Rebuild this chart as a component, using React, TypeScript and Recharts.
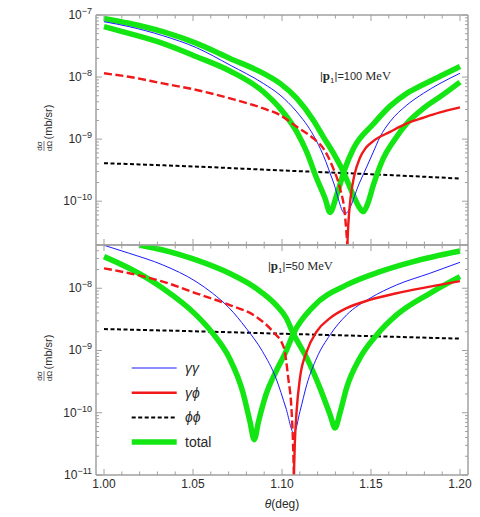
import { LineChart, Line, XAxis, YAxis, Legend } from "recharts";

type Pt = [number, number];

// theta (deg) vs d(sigma)/d(Omega) (mb/sr)
const TOP_BLUE: Pt[] = [
  [1.0, 7.8e-8], [1.014, 6.5e-8], [1.033, 4.65e-8], [1.052, 2.97e-8], [1.0708, 1.56e-8],
  [1.0895, 7.9e-9], [1.0989, 5.13e-9], [1.1083, 2.75e-9], [1.1176, 1.16e-9], [1.1232, 5.5e-10],
  [1.1288, 2.05e-10], [1.1354, 6.3e-11], [1.1438, 2.05e-10], [1.1513, 6.2e-10], [1.1551, 1.09e-9],
  [1.1607, 1.91e-9], [1.1701, 3.53e-9], [1.1794, 5.46e-9], [1.1888, 7.9e-9], [1.2, 1.15e-8],
];
const TOP_RED_NEG: Pt[] = [
  [1.0, 1.15e-8], [1.014, 1.01e-8], [1.033, 7.9e-9], [1.052, 6.2e-9], [1.0708, 4.53e-9],
  [1.0895, 3.13e-9], [1.0989, 2.44e-9], [1.1083, 1.58e-9], [1.1176, 1.03e-9], [1.1232, 7.1e-10],
  [1.1288, 3.37e-10], [1.1326, 1.6e-10], [1.1354, 5.9e-11], [1.1367, 1.97e-11],
];
const TOP_RED_POS: Pt[] = [
  [1.1367, 1.97e-11], [1.1372, 4e-11], [1.1385, 1.12e-10], [1.1405, 2.5e-10], [1.1438, 5.0e-10],
  [1.147, 7.2e-10], [1.1513, 9.3e-10], [1.1607, 1.31e-9], [1.1701, 1.79e-9], [1.1794, 2.21e-9],
  [1.1888, 2.69e-9], [1.2, 3.24e-9],
];
const TOP_BLACK: Pt[] = [
  [1.0, 4.1e-10], [1.05, 3.63e-10], [1.1, 3.13e-10], [1.15, 2.72e-10], [1.2, 2.32e-10],
];
const TOP_GREEN_A: Pt[] = [
  [1.0, 6.5e-8], [1.014, 5.06e-8], [1.033, 3.49e-8], [1.052, 2.13e-8], [1.0708, 1.25e-8],
  [1.0895, 5.8e-9], [1.0989, 3.13e-9], [1.1083, 1.31e-9], [1.1139, 6.2e-10], [1.1195, 2.32e-10],
  [1.1242, 1.11e-10], [1.127, 6.6e-11], [1.1307, 1.25e-10], [1.1354, 3.37e-10], [1.1403, 7.2e-10],
  [1.1513, 1.75e-9], [1.1607, 3.4e-9], [1.1701, 5.46e-9], [1.1794, 7.6e-9], [1.1888, 1.03e-8],
  [1.2, 1.48e-8],
];
const TOP_GREEN_B: Pt[] = [
  [1.0, 8.8e-8], [1.014, 7.35e-8], [1.033, 5.38e-8], [1.052, 3.49e-8], [1.0708, 2.0e-8],
  [1.0895, 1.15e-8], [1.0989, 7.9e-9], [1.1083, 4.53e-9], [1.1176, 2.02e-9], [1.1232, 1.09e-9],
  [1.1288, 6.0e-10], [1.1344, 3.0e-10], [1.14, 1.26e-10], [1.1435, 7.9e-11], [1.1457, 6.8e-11],
  [1.148, 8.9e-11], [1.1513, 1.81e-10], [1.1569, 4.9e-10], [1.1625, 9.1e-10], [1.1701, 1.79e-9],
  [1.1794, 3.13e-9], [1.1888, 4.82e-9], [1.2, 8.3e-9],
];

const BOT_BLUE: Pt[] = [
  [1.0, 4.9e-8], [1.0142, 3.64e-8], [1.033, 2.37e-8], [1.0517, 1.28e-8], [1.061, 8.3e-9],
  [1.0704, 4.8e-9], [1.0798, 2.29e-9], [1.0891, 9.6e-10], [1.0966, 3.6e-10], [1.1022, 1.19e-10],
  [1.1067, 4.7e-11], [1.1101, 1.05e-10], [1.1139, 2.82e-10], [1.1195, 7.6e-10], [1.127, 1.78e-9],
  [1.1363, 3.73e-9], [1.1494, 6.9e-9], [1.1644, 1.13e-8], [1.1831, 1.74e-8], [1.2, 2.61e-8],
];
const BOT_RED_NEG: Pt[] = [
  [1.0, 2.09e-8], [1.0142, 1.74e-8], [1.033, 1.28e-8], [1.0517, 8.3e-9], [1.0704, 5.4e-9],
  [1.0854, 3.5e-9], [1.0948, 2.02e-9], [1.101, 1.12e-9], [1.1035, 3.63e-10], [1.1054, 1.05e-10],
  [1.1062, 3.2e-11], [1.1067, 1e-11],
];
const BOT_RED_POS: Pt[] = [
  [1.1067, 1e-11], [1.1072, 3.2e-11], [1.1082, 1.05e-10], [1.1101, 3.63e-10], [1.1139, 9.6e-10],
  [1.1195, 2.02e-9], [1.127, 3.31e-9], [1.1363, 4.79e-9], [1.1494, 6.5e-9], [1.1644, 8.3e-9],
  [1.1831, 1.06e-8], [1.2, 1.3e-8],
];
const BOT_BLACK: Pt[] = [
  [1.0, 2.21e-9], [1.05, 2.04e-9], [1.1, 1.86e-9], [1.15, 1.7e-9], [1.2, 1.55e-9],
];
const BOT_GREEN_A: Pt[] = [
  [1.0, 3.22e-8], [1.0142, 2.09e-8], [1.033, 1.0e-8], [1.0517, 3.73e-9], [1.061, 1.9e-9],
  [1.0704, 7.6e-10], [1.0779, 2.19e-10], [1.082, 7.2e-11], [1.0844, 3.7e-11], [1.0868, 7.2e-11],
  [1.091, 1.95e-10], [1.0966, 4.6e-10], [1.1022, 9.6e-10], [1.1064, 1.86e-9], [1.1176, 5.08e-9],
  [1.1363, 1.13e-8], [1.1551, 1.85e-8], [1.1738, 2.68e-8], [1.2, 3.97e-8],
];
const BOT_GREEN_B: Pt[] = [
  [1.0197, 4.95e-8], [1.033, 4.12e-8], [1.0517, 2.85e-8], [1.0704, 1.74e-8],
  [1.0854, 1.0e-8], [1.0966, 5.4e-9], [1.1022, 3.39e-9], [1.1064, 1.86e-9], [1.1139, 7.6e-10],
  [1.1213, 2.51e-10], [1.127, 9.3e-11], [1.1298, 5.7e-11], [1.1326, 1.0e-10], [1.1363, 2.51e-10],
  [1.1438, 7.6e-10], [1.1532, 1.78e-9], [1.1644, 3.73e-9], [1.1831, 8.3e-9], [1.2, 1.54e-8],
];

const X_TICKS = [
  1.0, 1.01, 1.02, 1.03, 1.04, 1.05, 1.06, 1.07, 1.08, 1.09, 1.1,
  1.11, 1.12, 1.13, 1.14, 1.15, 1.16, 1.17, 1.18, 1.19, 1.2,
];
const X_MAJOR = [1.0, 1.05, 1.1, 1.15, 1.2];
const DECADES = [-11, -10, -9, -8, -7];
const MANTISSAS = [1, 2, 3, 4, 5, 6, 7, 8, 9];

const LEGEND_ITEMS = [
  { label: "γγ", italic: true, color: "#1a1aff", width: 1, dash: undefined },
  { label: "γϕ", italic: true, color: "#f01818", width: 2.4, dash: undefined },
  { label: "ϕϕ", italic: true, color: "#000000", width: 2, dash: "4 2.5" },
  { label: "total", italic: false, color: "#14e614", width: 5.5, dash: undefined },
];

const X_DOMAIN: [number, number] = [0.9955, 1.2045];
const TOP_Y_DOMAIN: [number, number] = [1.97e-11, 1e-7];
const BOT_Y_DOMAIN: [number, number] = [1e-11, 4.95e-8];

const BLUE = "#1a1aff";
const RED = "#f01818";
const GREEN = "#14e614";
const FRAME = "#a0a0a0";
const INK = "#2a2a2a";
const SANS = "'Liberation Sans', Arial, sans-serif";
const SERIF = "'Liberation Serif', 'Times New Roman', serif";

const rows = (pts: Pt[]) => pts.map(([t, v]) => ({ t, v }));

const logTicks = (domain: [number, number]) =>
  DECADES.flatMap((d) => MANTISSAS.map((m) => m * Math.pow(10, d))).filter(
    (v) => v >= domain[0] * 0.999 && v <= domain[1] * 1.001
  );

function XTick(props: any) {
  const { x, y, payload, side, labels } = props;
  const v: number = payload.value;
  const major = X_MAJOR.some((m) => Math.abs(m - v) < 1e-6);
  const len = major ? 6 : 3.5;
  const dir = side === "bottom" ? -1 : 1;
  const px = Number(x);
  const py = Number(y);
  return (
    <g>
      <line x1={px} x2={px} y1={py} y2={py + dir * len} stroke={FRAME} strokeWidth={1} />
      {labels && major && (
        <text x={px} y={py + 13} textAnchor="middle" fontSize={12} fill={INK} fontFamily={SANS}>
          {v.toFixed(2)}
        </text>
      )}
    </g>
  );
}

function YTick(props: any) {
  const { x, y, payload, side } = props;
  const v: number = payload.value;
  const exp = Math.floor(Math.log10(v) + 1e-9);
  const major = Math.abs(v / Math.pow(10, exp) - 1) < 1e-6;
  const len = major ? 6 : 3;
  const dir = side === "left" ? 1 : -1;
  const px = Number(x);
  const py = Number(y);
  return (
    <g>
      <line x1={px} x2={px + dir * len} y1={py} y2={py} stroke={FRAME} strokeWidth={1} />
      {side === "left" && major && (
        <text x={px - 4} y={py + 4} textAnchor="end" fontSize={12} fill={INK} fontFamily={SANS}>
          10
          <tspan dy={-5} fontSize={9}>
            {"\u2212" + Math.abs(exp)}
          </tspan>
        </text>
      )}
    </g>
  );
}

function LegendBox() {
  return (
    <svg width={130} height={100} style={{ display: "block" }}>
      {LEGEND_ITEMS.map((it, i) => {
        const cy = 12 + i * 24.7;
        return (
          <g key={it.label}>
            <line x1={11.7} x2={56.7} y1={cy} y2={cy} stroke={it.color} strokeWidth={it.width} strokeDasharray={it.dash} />
            <text x={65} y={cy + 5} fontSize={14} fill={INK} fontFamily={SANS} fontStyle={it.italic ? "italic" : "normal"}>
              {it.label}
            </text>
          </g>
        );
      })}
    </svg>
  );
}

function Panel({
  width,
  height,
  margin,
  yDomain,
  bottomHeight,
  bottomLabels,
  series,
  legend,
}: {
  width: number;
  height: number;
  margin: { top: number; right: number; bottom: number; left: number };
  yDomain: [number, number];
  bottomHeight: number;
  bottomLabels: boolean;
  series: { blue: Pt[]; redNeg: Pt[]; redPos: Pt[]; black: Pt[]; greenA: Pt[]; greenB: Pt[] };
  legend?: boolean;
}) {
  const yTicks = logTicks(yDomain);
  const common = { xAxisId: "b", yAxisId: "l", dataKey: "v", type: "monotone" as const, dot: false, isAnimationActive: false, activeDot: false };
  const axisLine = { stroke: FRAME, strokeWidth: 1.5 };
  return (
    <LineChart width={width} height={height} margin={margin}>
      <XAxis
        xAxisId="b"
        dataKey="t"
        type="number"
        domain={X_DOMAIN}
        allowDataOverflow
        ticks={X_TICKS}
        interval={0}
        height={bottomHeight}
        tickSize={0}
        tickMargin={0}
        tickLine={false}
        axisLine={axisLine}
        stroke={FRAME}
        tick={<XTick side="bottom" labels={bottomLabels} />}
      />
      <XAxis
        xAxisId="t"
        orientation="top"
        dataKey="t"
        type="number"
        domain={X_DOMAIN}
        allowDataOverflow
        ticks={X_TICKS}
        interval={0}
        height={1}
        tickSize={0}
        tickMargin={0}
        tickLine={false}
        axisLine={axisLine}
        stroke={FRAME}
        tick={<XTick side="top" labels={false} />}
      />
      <YAxis
        yAxisId="l"
        scale="log"
        type="number"
        domain={yDomain}
        allowDataOverflow
        ticks={yTicks}
        interval={0}
        width={96}
        tickSize={0}
        tickMargin={0}
        tickLine={false}
        axisLine={axisLine}
        stroke={FRAME}
        tick={<YTick side="left" />}
      />
      <YAxis
        yAxisId="r"
        orientation="right"
        scale="log"
        type="number"
        domain={yDomain}
        allowDataOverflow
        ticks={yTicks}
        interval={0}
        width={1}
        tickSize={0}
        tickMargin={0}
        tickLine={false}
        axisLine={axisLine}
        stroke={FRAME}
        tick={<YTick side="right" />}
      />
      <Line {...common} data={rows(series.black)} stroke="#000" strokeWidth={2} strokeDasharray="4 2.5" />
      <Line {...common} data={rows(series.greenA)} stroke={GREEN} strokeWidth={5.5} />
      <Line {...common} data={rows(series.greenB)} stroke={GREEN} strokeWidth={5.5} />
      <Line {...common} data={rows(series.blue)} stroke={BLUE} strokeWidth={1} />
      <Line {...common} data={rows(series.redNeg)} stroke={RED} strokeWidth={2.4} strokeDasharray="8 3.5" />
      <Line {...common} data={rows(series.redPos)} stroke={RED} strokeWidth={2.4} />
      {legend && (
        <Legend
          layout="vertical"
          align="center"
          verticalAlign="middle"
          content={() => <LegendBox />}
          wrapperStyle={{ left: 120, top: 115.7, width: 130, height: 100 }}
        />
      )}
    </LineChart>
  );
}

// rotated axis title: "(mb/sr)" above, the dσ/dΩ fraction below it
function YTitle({ cy }: { cy: number }) {
  const unitY = cy - 8;
  const fracY = cy + 16;
  return (
    <g fontFamily={SANS} fill={INK}>
      <text x={52} y={unitY} fontSize={11} textAnchor="middle" transform={`rotate(-90 52 ${unitY})`}>
        (mb/sr)
      </text>
      <text x={41.5} y={fracY} fontSize={8} textAnchor="middle" transform={`rotate(-90 41.5 ${fracY})`}>
        dσ
      </text>
      <line x1={44} x2={44} y1={fracY - 5} y2={fracY + 5} stroke={INK} strokeWidth={0.6} />
      <text x={51.5} y={fracY} fontSize={8} textAnchor="middle" transform={`rotate(-90 51.5 ${fracY})`}>
        dΩ
      </text>
    </g>
  );
}

function PanelLabel({ x, y, value }: { x: number; y: number; value: string }) {
  return (
    <text x={x} y={y} fontFamily={SANS} fontSize={11} fill={INK}>
      |<tspan fontFamily={SERIF} fontWeight="bold" fontSize={13}>p</tspan>
      <tspan fontSize={8} dy={3}>1</tspan>
      <tspan dy={-3}>|={value} </tspan>
      <tspan fontFamily={SERIF} fontSize={12.5}>MeV</tspan>
    </text>
  );
}

export default function App() {
  return (
    <div style={{ position: "absolute", left: 0, top: 0, width: 480, height: 517, background: "#fff", overflow: "hidden" }}>
      <div style={{ position: "absolute", left: 0, top: 0 }}>
        <Panel
          width={480}
          height={250}
          margin={{ top: 14, right: 11, bottom: 4, left: 0 }}
          yDomain={TOP_Y_DOMAIN}
          bottomHeight={1}
          bottomLabels={false}
          series={{ blue: TOP_BLUE, redNeg: TOP_RED_NEG, redPos: TOP_RED_POS, black: TOP_BLACK, greenA: TOP_GREEN_A, greenB: TOP_GREEN_B }}
        />
      </div>
      <div style={{ position: "absolute", left: 0, top: 240 }}>
        <Panel
          width={480}
          height={277}
          margin={{ top: 4, right: 11, bottom: 0, left: 0 }}
          yDomain={BOT_Y_DOMAIN}
          bottomHeight={42}
          bottomLabels
          series={{ blue: BOT_BLUE, redNeg: BOT_RED_NEG, redPos: BOT_RED_POS, black: BOT_BLACK, greenA: BOT_GREEN_A, greenB: BOT_GREEN_B }}
          legend
        />
      </div>
      <svg width={480} height={517} style={{ position: "absolute", left: 0, top: 0, pointerEvents: "none" }}>
        <YTitle cy={130} />
        <YTitle cy={360} />
        <PanelLabel x={320} y={80} value="100" />
        <PanelLabel x={268} y={270} value="50" />
        <text x={282} y={508} textAnchor="middle" fontFamily={SANS} fontSize={12} fill={INK}>
          <tspan fontStyle="italic">θ</tspan>(deg)
        </text>
      </svg>
    </div>
  );
}
